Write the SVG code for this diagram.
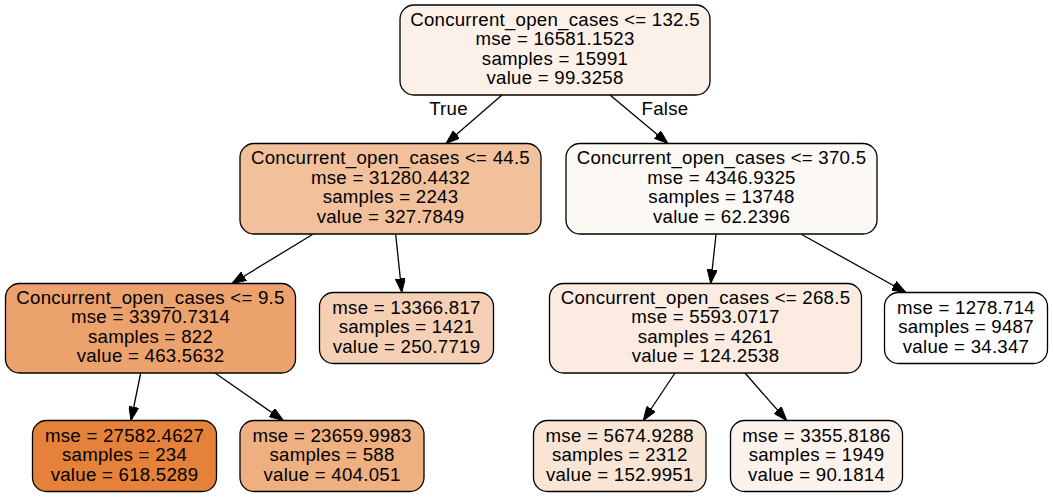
<svg xmlns="http://www.w3.org/2000/svg" width="1053" height="497" viewBox="0 0 1053 497">
<style>
.box{stroke:#000;stroke-width:1.3}
text{font-family:"Liberation Sans",Arial,Helvetica,sans-serif;font-size:18.67px;fill:#000;text-anchor:middle;letter-spacing:0.25px}
.edge{stroke:#000;stroke-width:1.3;fill:none;marker-end:url(#arr)}
</style>
<defs>
<marker id="arr" viewBox="0 0 14 10" refX="14" refY="5" markerWidth="14" markerHeight="10" markerUnits="userSpaceOnUse" orient="auto">
<path d="M0,0 L14,5 L0,10 z" fill="#000" stroke="#000" stroke-width="1"/>
</marker>
</defs>
<rect width="1053" height="497" fill="#fff"/>
<g id="connectors">
<line class="edge" x1="502" y1="95" x2="446" y2="143.5"/>
<line class="edge" x1="610" y1="95" x2="668" y2="143.5"/>
<line class="edge" x1="312.5" y1="234.5" x2="232" y2="283.5"/>
<line class="edge" x1="395.7" y1="234.5" x2="401.8" y2="292.5"/>
<line class="edge" x1="716" y1="234.5" x2="710.7" y2="283.5"/>
<line class="edge" x1="801.7" y1="234.5" x2="906" y2="292.5"/>
<line class="edge" x1="140.7" y1="373" x2="131" y2="420.5"/>
<line class="edge" x1="215" y1="373" x2="283.3" y2="420.5"/>
<line class="edge" x1="675" y1="373" x2="643.3" y2="420.5"/>
<line class="edge" x1="745" y1="373" x2="786.7" y2="420.5"/>
<text x="448.5" y="115">True</text>
<text x="665" y="115">False</text>
</g>
<g id="node0">
<rect class="box" x="400" y="5" width="310" height="90" rx="14" fill="#fcf1e9"/>
<text x="555" y="25.5">Concurrent_open_cases &lt;= 132.5</text>
<text x="555" y="45">mse = 16581.1523</text>
<text x="555" y="64.5">samples = 15991</text>
<text x="555" y="84">value = 99.3258</text>
</g>
<g id="node1">
<rect class="box" x="240" y="143.5" width="301" height="90.5" rx="14" fill="#f2c09b"/>
<text x="390.5" y="164.25">Concurrent_open_cases &lt;= 44.5</text>
<text x="390.5" y="183.75">mse = 31280.4432</text>
<text x="390.5" y="203.25">samples = 2243</text>
<text x="390.5" y="222.75">value = 327.7849</text>
</g>
<g id="node2">
<rect class="box" x="566" y="143.5" width="311" height="90.5" rx="14" fill="#fdf9f5"/>
<text x="721.5" y="164.25">Concurrent_open_cases &lt;= 370.5</text>
<text x="721.5" y="183.75">mse = 4346.9325</text>
<text x="721.5" y="203.25">samples = 13748</text>
<text x="721.5" y="222.75">value = 62.2396</text>
</g>
<g id="node3">
<rect class="box" x="5.5" y="283.5" width="290" height="89.5" rx="14" fill="#eca26d"/>
<text x="150.5" y="303.75">Concurrent_open_cases &lt;= 9.5</text>
<text x="150.5" y="323.25">mse = 33970.7314</text>
<text x="150.5" y="342.75">samples = 822</text>
<text x="150.5" y="362.25">value = 463.5632</text>
</g>
<g id="node4">
<rect class="box" x="319.5" y="292.5" width="174" height="71" rx="14" fill="#f5d0b5"/>
<text x="406.5" y="313.5">mse = 13366.817</text>
<text x="406.5" y="333">samples = 1421</text>
<text x="406.5" y="352.5">value = 250.7719</text>
</g>
<g id="node5">
<rect class="box" x="549.5" y="283.5" width="312" height="89.5" rx="14" fill="#fbebe0"/>
<text x="705.5" y="303.75">Concurrent_open_cases &lt;= 268.5</text>
<text x="705.5" y="323.25">mse = 5593.0717</text>
<text x="705.5" y="342.75">samples = 4261</text>
<text x="705.5" y="362.25">value = 124.2538</text>
</g>
<g id="node6">
<rect class="box" x="884.5" y="292.5" width="163" height="71" rx="14" fill="#ffffff"/>
<text x="966" y="313.5">mse = 1278.714</text>
<text x="966" y="333">samples = 9487</text>
<text x="966" y="352.5">value = 34.347</text>
</g>
<g id="node7">
<rect class="box" x="32.5" y="420.5" width="184" height="71" rx="14" fill="#e58139"/>
<text x="124.5" y="441.5">mse = 27582.4627</text>
<text x="124.5" y="461">samples = 234</text>
<text x="124.5" y="480.5">value = 618.5289</text>
</g>
<g id="node8">
<rect class="box" x="240" y="420.5" width="184" height="71" rx="14" fill="#eeaf81"/>
<text x="332" y="441.5">mse = 23659.9983</text>
<text x="332" y="461">samples = 588</text>
<text x="332" y="480.5">value = 404.051</text>
</g>
<g id="node9">
<rect class="box" x="533.5" y="420.5" width="172.5" height="71" rx="14" fill="#f9e5d6"/>
<text x="619.75" y="441.5">mse = 5674.9288</text>
<text x="619.75" y="461">samples = 2312</text>
<text x="619.75" y="480.5">value = 152.9951</text>
</g>
<g id="node10">
<rect class="box" x="730.5" y="420.5" width="172" height="71" rx="14" fill="#fcf3ec"/>
<text x="816.5" y="441.5">mse = 3355.8186</text>
<text x="816.5" y="461">samples = 1949</text>
<text x="816.5" y="480.5">value = 90.1814</text>
</g>
</svg>
